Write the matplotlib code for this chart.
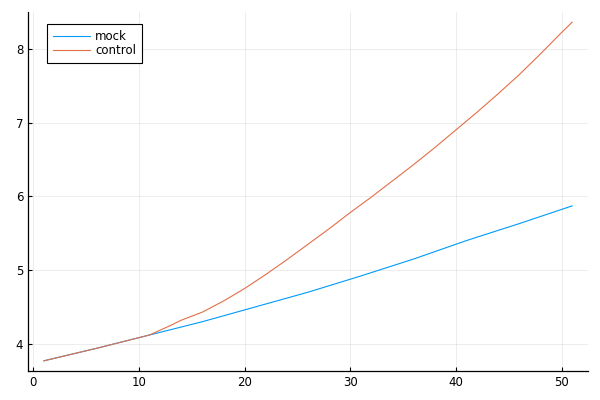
import matplotlib
matplotlib.use("Agg")
import matplotlib.pyplot as plt

mock_x = [1, 6, 11, 16, 21, 26, 31, 36, 41, 46, 51]
mock_y = [3.77, 3.94, 4.12, 4.30, 4.50, 4.70, 4.92, 5.15, 5.40, 5.63, 5.87]

control_x = [1, 6, 11, 13, 14, 16, 18, 20, 22, 24, 26, 28, 30, 32, 34, 36, 38, 40, 42, 44, 46, 48, 50, 51]
control_y = [3.77, 3.94, 4.12, 4.25, 4.32, 4.43, 4.58, 4.75, 4.94, 5.14, 5.35, 5.56, 5.78, 5.99,
             6.21, 6.43, 6.66, 6.90, 7.14, 7.39, 7.65, 7.93, 8.22, 8.36]

xticks = [0, 10, 20, 30, 40, 50]
yticks = [4, 5, 6, 7, 8]

plt.rcParams['font.family'] = ['DejaVu Sans']
fig = plt.figure(figsize=(6, 4), dpi=100)
ax = fig.add_axes([28/600, 1-371/400, (588-28)/600, (371-12)/400])

ax.plot(mock_x, mock_y, color='#009AFA', lw=0.8, label='mock')
ax.plot(control_x, control_y, color='#E36F47', lw=0.8, label='control')

ax.set_xlim(-0.5, 52.5)
ax.set_ylim(3.632, 8.498)
ax.set_xticks(xticks)
ax.set_yticks(yticks)
ax.grid(True, color='black', alpha=0.1, lw=0.5)
ax.tick_params(direction='in', length=3, width=0.8, labelsize=8.5, colors='black')
for s in ['top', 'right']:
    ax.spines[s].set_visible(False)
for s in ['left', 'bottom']:
    ax.spines[s].set_color('black')
    ax.spines[s].set_linewidth(0.9)

leg = ax.legend(loc='upper left', bbox_to_anchor=(0.0334, 0.9666), fontsize=8.5,
                frameon=True, fancybox=False, edgecolor='black', framealpha=1,
                handlelength=3.2, borderpad=0.5, labelspacing=0.13, handletextpad=0.42,
                borderaxespad=0)
leg.get_frame().set_linewidth(0.8)

fig.savefig('out.png', dpi=100)
